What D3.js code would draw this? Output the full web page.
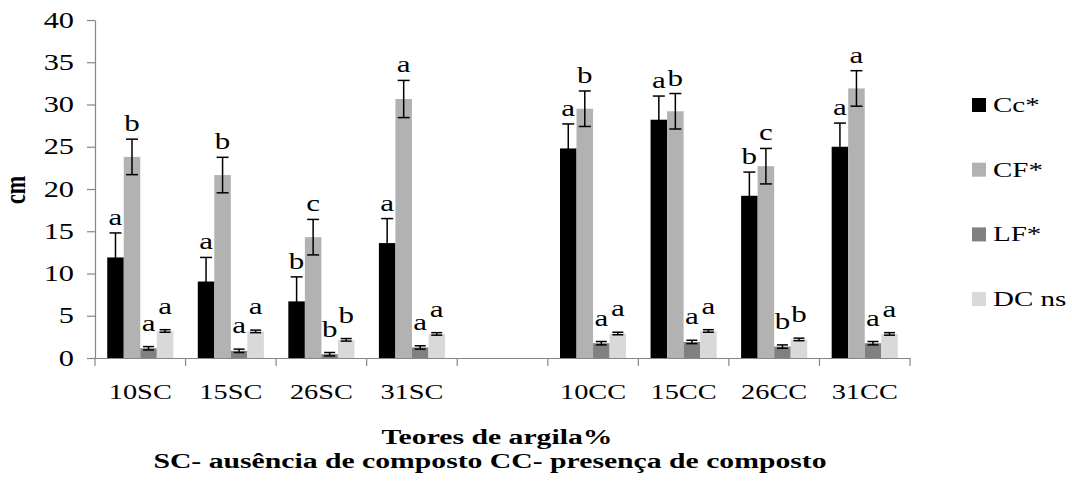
<!DOCTYPE html>
<html><head><meta charset="utf-8">
<script src="https://cdn.jsdelivr.net/npm/d3@7"></script>
<style>
html,body{margin:0;padding:0;background:#fff;}
</style></head>
<body><svg id="c" width="1072" height="484"></svg>
<script>
const categories = ["10SC","15SC","26SC","31SC","","10CC","15CC","26CC","31CC"];
const seriesNames = ["Cc*","CF*","LF*","DC ns"];
const seriesColors = ["#000000","#b2b2b2","#808080","#d9d9d9"];
const Cc    = [11.9, 9.05, 6.7, 13.6, null, 24.8, 28.2, 19.2, 25.0];
const CcErr = [2.9, 2.85, 2.9, 2.9, null, 2.9, 2.8, 2.8, 2.8];
const CF    = [23.8, 21.65, 14.3, 30.65, null, 29.5, 29.2, 22.7, 31.9];
const CFErr = [2.1, 2.1, 2.1, 2.2, null, 2.1, 2.1, 2.1, 2.1];
const LF    = [1.15, 0.85, 0.45, 1.25, null, 1.75, 1.9, 1.35, 1.75];
const LFErr = [0.2, 0.2, 0.2, 0.2, null, 0.2, 0.2, 0.2, 0.2];
const DC    = [3.2, 3.15, 2.15, 2.85, null, 2.9, 3.2, 2.2, 2.85];
const DCErr = [0.15, 0.15, 0.15, 0.15, null, 0.15, 0.15, 0.15, 0.15];
const CcLetters = ["a","a","b","a","","a","a","b","a"];
const CFLetters = ["b","b","c","a","","b","b","c","a"];
const LFLetters = ["a","a","b","a","","a","a","b","a"];
const DCLetters = ["a","a","b","a","","a","a","b","a"];
const yTicks = [0,5,10,15,20,25,30,35,40];
const yTitle = "cm";
const xTitle = "Teores de argila%";
const xSubtitle = "SC- ausência de composto CC- presença de composto";

const FONT = "'Liberation Serif', 'Times New Roman', Tinos, serif";
const SX = 1.35;
const values = [Cc, CF, LF, DC];
const errs = [CcErr, CFErr, LFErr, DCErr];
const letters = [CcLetters, CFLetters, LFLetters, DCLetters];
const letterGap = [8, 8, 16, 16];

const svg = d3.select("#c");
const L = 95, R = 910, T = 20, B = 358;
const x = d3.scaleBand().domain(d3.range(categories.length)).range([L, R]).padding(0);
const step = x.step();
const xs = d3.scaleBand().domain(d3.range(4)).range([step*0.135, step*0.865]).padding(0);
const y = d3.scaleLinear().domain([0, 40]).range([B, T]);

function styleText(sel, size, bold) {
  sel.style("font-family", FONT).style("font-size", size + "px")
     .style("font-weight", bold ? "bold" : "normal").style("fill", "#000");
  return sel;
}
function stretch(sel) {
  sel.each(function() {
    const t = d3.select(this);
    const ax = +t.attr("x") || 0, ay = +t.attr("y") || 0;
    t.attr("transform", `translate(${ax},${ay}) scale(${SX},1) translate(${-ax},${-ay})`);
  });
}

// y axis
const ya = svg.append("g").attr("transform", `translate(${L},0)`)
  .call(d3.axisLeft(y).tickValues(yTicks).tickSize(8).tickSizeOuter(0).tickPadding(13));
ya.selectAll("path,line").attr("stroke", "#868686").attr("stroke-width", 1.2);
stretch(styleText(ya.selectAll("text"), 22.5));

// x axis
const xa = svg.append("g").attr("transform", `translate(0,${B})`)
  .call(d3.axisBottom(x).tickFormat(i => categories[i]).tickSize(0).tickSizeOuter(0).tickPadding(26));
xa.select("path").attr("stroke", "#868686").attr("stroke-width", 1.2);
stretch(styleText(xa.selectAll("text"), 21));
svg.append("g").selectAll("line").data(d3.range(categories.length + 1)).join("line")
  .attr("x1", i => L + i*step).attr("x2", i => L + i*step)
  .attr("y1", B).attr("y2", B + 8).attr("stroke", "#868686").attr("stroke-width", 1.2);

// bars
values.forEach((vals, s) => {
  const g = svg.append("g");
  const pts = d3.range(categories.length).filter(i => vals[i] != null);
  g.selectAll("rect").data(pts).join("rect")
    .attr("x", i => x(i) + xs(s)).attr("width", xs.bandwidth())
    .attr("y", i => y(vals[i])).attr("height", i => y(0) - y(vals[i]))
    .attr("fill", seriesColors[s]);
  const cx = i => x(i) + xs(s) + xs.bandwidth()/2;
  const cap = s < 2 ? 6 : 5.5;
  const e = errs[s];
  g.selectAll("line.v").data(pts).join("line").attr("class","v")
    .attr("x1", cx).attr("x2", cx)
    .attr("y1", i => y(vals[i] + e[i])).attr("y2", i => y(vals[i] - e[i]))
    .attr("stroke", "#000").attr("stroke-width", 1.5);
  g.selectAll("line.t").data(pts).join("line").attr("class","t")
    .attr("x1", i => cx(i) - cap).attr("x2", i => cx(i) + cap)
    .attr("y1", i => y(vals[i] + e[i])).attr("y2", i => y(vals[i] + e[i]))
    .attr("stroke", "#000").attr("stroke-width", 1.5);
  g.selectAll("line.b").data(pts).join("line").attr("class","b")
    .attr("x1", i => cx(i) - cap).attr("x2", i => cx(i) + cap)
    .attr("y1", i => y(vals[i] - e[i])).attr("y2", i => y(vals[i] - e[i]))
    .attr("stroke", "#000").attr("stroke-width", 1.5);
  stretch(styleText(g.selectAll("text").data(pts).join("text")
    .attr("x", cx).attr("y", i => y(vals[i] + e[i]) - letterGap[s])
    .attr("text-anchor", "middle")
    .text(i => letters[s][i]), 23));
});

// axis titles
styleText(svg.append("text").attr("transform", `translate(25,190) scale(${SX},1) rotate(-90)`)
  .attr("text-anchor", "middle").text(yTitle), 22, true);
stretch(styleText(svg.append("text").attr("x", 497).attr("y", 444).attr("text-anchor", "middle")
  .text(xTitle), 22, true));
stretch(styleText(svg.append("text").attr("x", 490).attr("y", 468).attr("text-anchor", "middle")
  .text(xSubtitle), 22, true));

// legend
const lg = svg.append("g");
seriesNames.forEach((n, s) => {
  const cy = 105 + s*64.7;
  lg.append("rect").attr("x", 972).attr("y", cy - 7).attr("width", 14).attr("height", 14).attr("fill", seriesColors[s]);
  stretch(styleText(lg.append("text").attr("x", 993).attr("y", cy + 7).text(n), 21.5));
});
</script></body></html>
